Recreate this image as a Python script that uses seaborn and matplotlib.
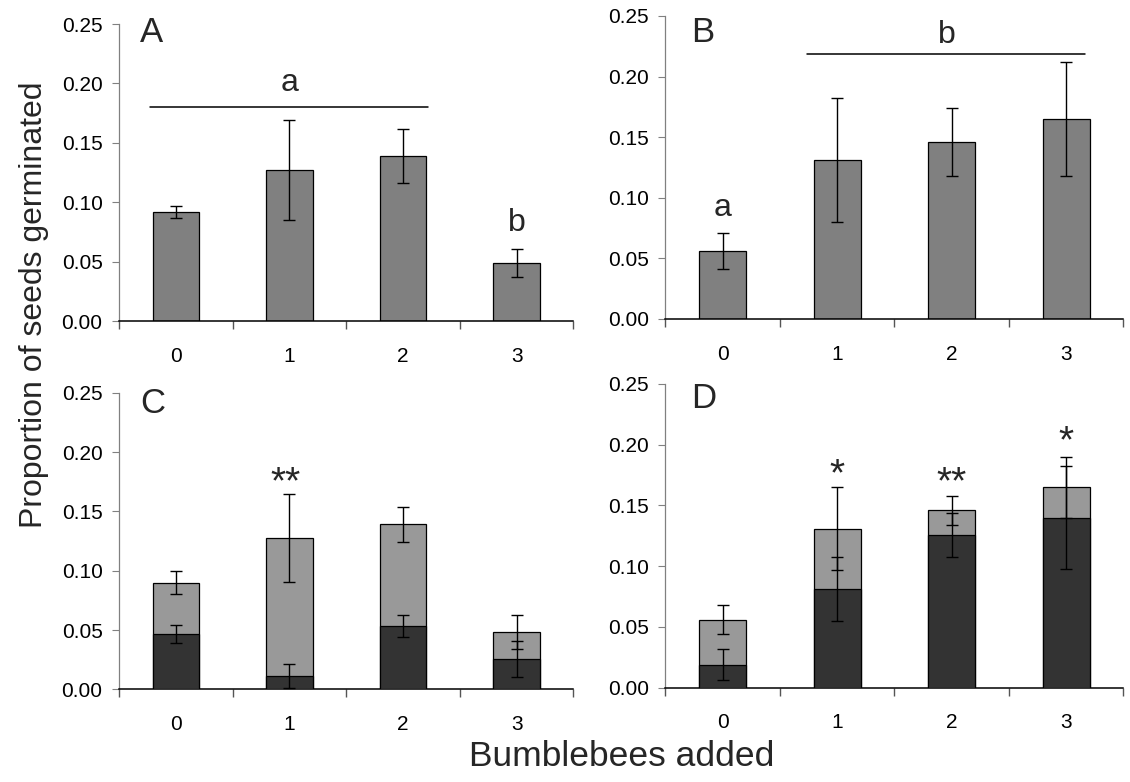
import numpy as np
import pandas as pd
import matplotlib
matplotlib.use("Agg")
import matplotlib.pyplot as plt
from matplotlib.ticker import FormatStrFormatter
import seaborn as sns

# ---- data -------------------------------------------------------------
bees = ["0", "1", "2", "3"]

# Panel A: total germination, first experiment
a_mean = [0.092, 0.127, 0.139, 0.049]
a_err = [0.005, 0.042, 0.023, 0.012]

# Panel B: total germination, second experiment
b_mean = [0.056, 0.131, 0.146, 0.165]
b_err = [0.015, 0.051, 0.028, 0.047]

# Panel C: total (light) and fraction of it (dark), first experiment
c_total = [0.090, 0.1275, 0.139, 0.0483]
c_total_err = [0.0096, 0.037, 0.0146, 0.014]
c_dark = [0.047, 0.0112, 0.0534, 0.0256]
c_dark_err = [0.0076, 0.0104, 0.0094, 0.0153]

# Panel D: total (light) and fraction of it (dark), second experiment
d_total = [0.056, 0.131, 0.146, 0.1648]
d_total_err = [0.0121, 0.034, 0.0118, 0.025]
d_dark = [0.019, 0.0813, 0.1258, 0.1398]
d_dark_err = [0.0125, 0.0264, 0.0184, 0.0424]

yticks = [0.00, 0.05, 0.10, 0.15, 0.20, 0.25]

# ---- style ------------------------------------------------------------
sns.set_style("ticks")
plt.rcParams["font.family"] = ["Liberation Sans", "DejaVu Sans"]

MID = "#808080"
LIGHT = "#999999"
DARK = "#333333"
BAR_W = 0.41

fig = plt.figure(figsize=(11.3, 7.82), dpi=100)
axA = fig.add_axes([0.1053, 0.5895, 0.4022, 0.3798])
axB = fig.add_axes([0.5889, 0.5921, 0.4053, 0.3875])
axC = fig.add_axes([0.1053, 0.1185, 0.4022, 0.3793])
axD = fig.add_axes([0.5889, 0.1206, 0.4053, 0.3884])


def bars(ax, values, color, zorder=2):
    df = pd.DataFrame({"bees": bees, "prop": values})
    sns.barplot(data=df, x="bees", y="prop", order=bees, ax=ax, color=color,
                width=BAR_W, edgecolor="black", linewidth=0.9,
                errorbar=None, saturation=1, zorder=zorder)


def errs(ax, values, err):
    pos = np.arange(len(bees))
    ax.errorbar(pos, values, yerr=err, fmt="none", ecolor="black",
                elinewidth=1.0, capsize=4.2, capthick=1.0, zorder=5)


def style_axis(ax, letter, lx, ly):
    ax.set_xlim(-0.5, len(bees) - 0.5)
    ax.set_ylim(0, 0.25)
    ax.set_yticks(yticks)
    ax.yaxis.set_major_formatter(FormatStrFormatter("%.2f"))
    ax.set_xticks(np.arange(len(bees)))
    ax.set_xticklabels(bees)
    ax.set_xticks(np.arange(len(bees) + 1) - 0.5, minor=True)
    ax.tick_params(axis="x", which="major", length=0, pad=18.5,
                   labelsize=15, colors="black")
    ax.tick_params(axis="x", which="minor", length=5.5, width=1.0,
                   direction="out", color="#555555")
    ax.tick_params(axis="y", which="major", length=5.3, width=0.8,
                   direction="out", color="#808080", pad=6.5,
                   labelsize=15, labelcolor="black")
    for s in ("top", "right"):
        ax.spines[s].set_visible(False)
    ax.spines["left"].set_color("#808080")
    ax.spines["left"].set_linewidth(0.9)
    ax.spines["bottom"].set_color("black")
    ax.spines["bottom"].set_linewidth(1.1)
    ax.set_xlabel("")
    ax.set_ylabel("")
    ax.text(lx, ly, letter, transform=ax.transAxes, fontsize=25,
            ha="left", va="center")


# Panel A
bars(axA, a_mean, MID)
errs(axA, a_mean, a_err)
style_axis(axA, "A", 0.046, 0.973)
axA.plot([-0.23, 2.22], [0.18, 0.18], color="black", lw=1.1, clip_on=False)
axA.text(1.0, 0.200, "a", fontsize=23, ha="center", va="center")
axA.text(3.0, 0.0825, "b", fontsize=23, ha="center", va="center")

# Panel B
bars(axB, b_mean, MID)
errs(axB, b_mean, b_err)
style_axis(axB, "B", 0.055, 0.946)
axB.plot([0.74, 3.16], [0.2186, 0.2186], color="black", lw=1.1, clip_on=False)
axB.text(1.96, 0.234, "b", fontsize=23, ha="center", va="center")
axB.text(0.0, 0.0916, "a", fontsize=23, ha="center", va="center")

# Panel C (stacked: light total behind, dark portion in front)
bars(axC, c_total, LIGHT, zorder=2)
bars(axC, c_dark, DARK, zorder=3)
errs(axC, c_total, c_total_err)
errs(axC, c_dark, c_dark_err)
style_axis(axC, "C", 0.046, 0.962)
axC.text(0.97, 0.174, "**", fontsize=28, ha="center", va="center")

# Panel D
bars(axD, d_total, LIGHT, zorder=2)
bars(axD, d_dark, DARK, zorder=3)
errs(axD, d_total, d_total_err)
errs(axD, d_dark, d_dark_err)
style_axis(axD, "D", 0.055, 0.951)
axD.text(1.0, 0.175, "*", fontsize=28, ha="center", va="center")
axD.text(2.0, 0.168, "**", fontsize=28, ha="center", va="center")
axD.text(3.0, 0.202, "*", fontsize=28, ha="center", va="center")

# Shared axis titles
fig.text(0.030, 0.61, "Proportion of seeds germinated", rotation=90,
         fontsize=23, ha="center", va="center")
fig.text(0.55, 0.032, "Bumblebees added", fontsize=25.5,
         ha="center", va="center")

fig.savefig("out.png", dpi=100, facecolor="white")
